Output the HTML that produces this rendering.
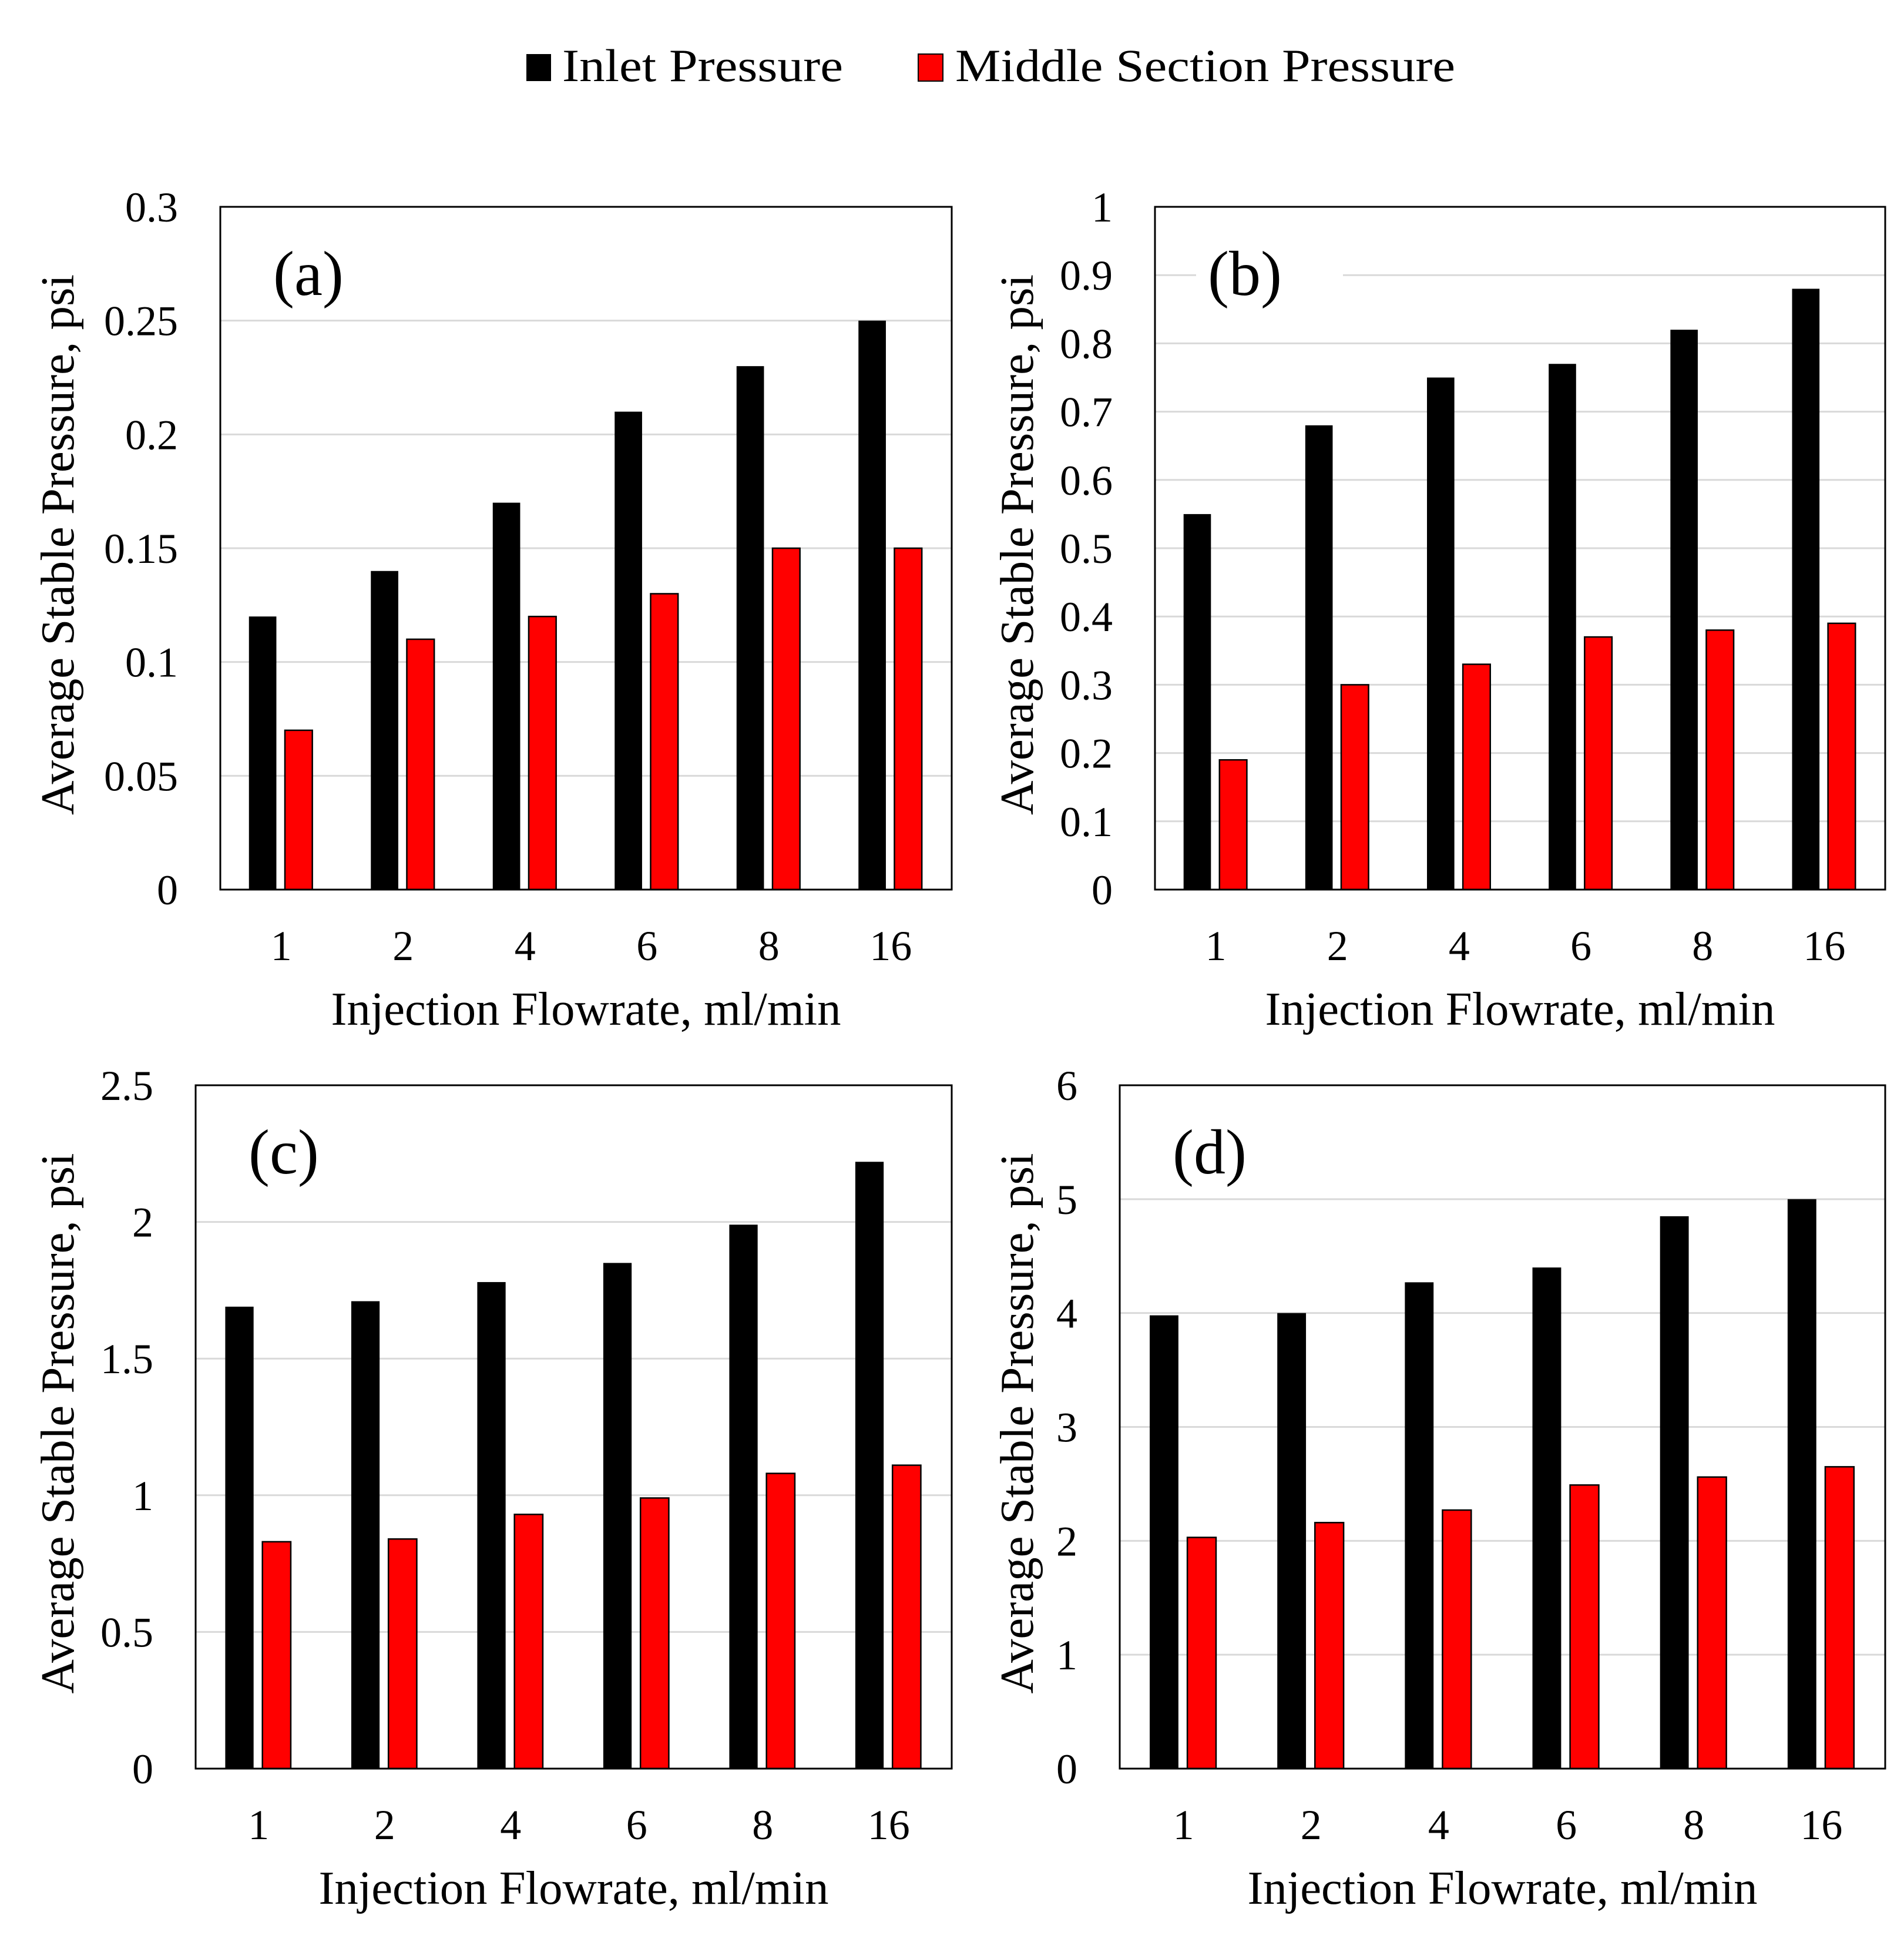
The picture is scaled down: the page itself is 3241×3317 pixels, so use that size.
<!DOCTYPE html>
<html><head><meta charset="utf-8"><style>
html,body{margin:0;padding:0;background:#fff}
svg{display:block}
text{font-family:"Liberation Serif",serif;fill:#000}
</style></head><body>
<svg id="chart" width="3241" height="3317" viewBox="0 0 3241 3317" xmlns="http://www.w3.org/2000/svg">
<g>
<rect x="896" y="92" width="42" height="46" fill="#000"/>
<text x="957" y="138" font-size="78" textLength="478" lengthAdjust="spacingAndGlyphs">Inlet Pressure</text>
<rect x="1563" y="92" width="42" height="46" fill="#f00" stroke="#000" stroke-width="2"/>
<text x="1626" y="138" font-size="78" textLength="851" lengthAdjust="spacingAndGlyphs">Middle Section Pressure</text>
</g>
</svg>
<script>
const categories = ["1","2","4","6","8","16"];
const inletA = [0.12,0.14,0.17,0.21,0.23,0.25];
const middleA = [0.07,0.11,0.12,0.13,0.15,0.15];
const inletB = [0.55,0.68,0.75,0.77,0.82,0.88];
const middleB = [0.19,0.30,0.33,0.37,0.38,0.39];
const inletC = [1.69,1.71,1.78,1.85,1.99,2.22];
const middleC = [0.83,0.84,0.93,0.99,1.08,1.11];
const inletD = [3.98,4.00,4.27,4.40,4.85,5.00];
const middleD = [2.03,2.16,2.27,2.49,2.56,2.65];
const ticksA = ["0","0.05","0.1","0.15","0.2","0.25","0.3"];
const ticksB = ["0","0.1","0.2","0.3","0.4","0.5","0.6","0.7","0.8","0.9","1"];
const ticksC = ["0","0.5","1","1.5","2","2.5"];
const ticksD = ["0","1","2","3","4","5","6"];

const NS="http://www.w3.org/2000/svg";
const svg=document.getElementById('chart');
function mk(tag,attrs,parent){const e=document.createElementNS(NS,tag);for(const k in attrs)e.setAttribute(k,attrs[k]);parent.appendChild(e);return e;}

const panels=[
 {id:'a',label:'(a)',x0:375,x1:1620,y0:352,y1:1514,inlet:inletA,middle:middleA,ticks:ticksA,ytx:98},
 {id:'b',label:'(b)',x0:1966,x1:3209,y0:352,y1:1514,inlet:inletB,middle:middleB,ticks:ticksB,ytx:1731},
 {id:'c',label:'(c)',x0:333,x1:1620,y0:1847,y1:3010,inlet:inletC,middle:middleC,ticks:ticksC,ytx:98},
 {id:'d',label:'(d)',x0:1906,x1:3209,y0:1847,y1:3010,inlet:inletD,middle:middleD,ticks:ticksD,ytx:1731}
];

panels.forEach(p=>{
 const g=mk('g',{},svg);
 
 
 const tv=p.ticks.map(Number);
 const ymax=tv[tv.length-1];
 const yS=v=>p.y1-(v/ymax)*(p.y1-p.y0);
 const cw=(p.x1-p.x0)/categories.length;
 const xC=i=>p.x0+cw*(i+0.5);
 p.ticks.forEach((t,i)=>{
  const y=yS(tv[i]);
  if(i>0&&i<p.ticks.length-1){
   const gl=mk('line',{x1:p.x0,x2:p.x1,y1:y,y2:y,stroke:'#d9d9d9','stroke-width':3},g);
   
   
  }
  const tl=mk('text',{x:p.x0-72,y:y+25,'font-size':72,'text-anchor':'end'},g);
  tl.textContent=t;
  
  
 });
 const lb=mk('rect',{x:p.x0+70,y:p.y0+45,width:250,height:135,fill:'#fff'},g);
 
 
 const lt=mk('text',{x:p.x0+90,y:p.y0+150,'font-size':108},g);
 lt.textContent=p.label;
 
 
 categories.forEach((c,i)=>{
  const cx=xC(i);
  const yb=yS(p.inlet[i]);
  const b=mk('rect',{x:cx-0.265*cw,y:yb,width:0.225*cw,height:p.y1-yb,fill:'#000'},g);
  
  
  const yr=yS(p.middle[i]);
  const r=mk('rect',{x:cx+0.03*cw,y:yr,width:0.225*cw,height:p.y1-yr,fill:'#f00',stroke:'#000','stroke-width':2.5},g);
  
  
  const xl=mk('text',{x:cx,y:p.y1+120,'font-size':72,'text-anchor':'middle'},g);
  xl.textContent=c;
  
  
 });
 const fr=mk('rect',{x:p.x0,y:p.y0,width:p.x1-p.x0,height:p.y1-p.y0,fill:'none',stroke:'#000','stroke-width':3},g);
 
 
 const xcx=(p.x0+p.x1)/2;
 const xt=mk('text',{x:xcx-434,y:p.y1+230,'font-size':80,textLength:868,lengthAdjust:'spacingAndGlyphs'},g);
 xt.textContent='Injection Flowrate, ml/min';
 
 
 const cy=(p.y0+p.y1)/2-6;
 const yt=mk('text',{x:p.ytx-460,y:cy,'font-size':80,textLength:920,lengthAdjust:'spacingAndGlyphs',transform:'rotate(-90 '+p.ytx+' '+cy+')',dy:27},g);
 yt.textContent='Average Stable Pressure, psi';
 
 
});
</script>
</body></html>
